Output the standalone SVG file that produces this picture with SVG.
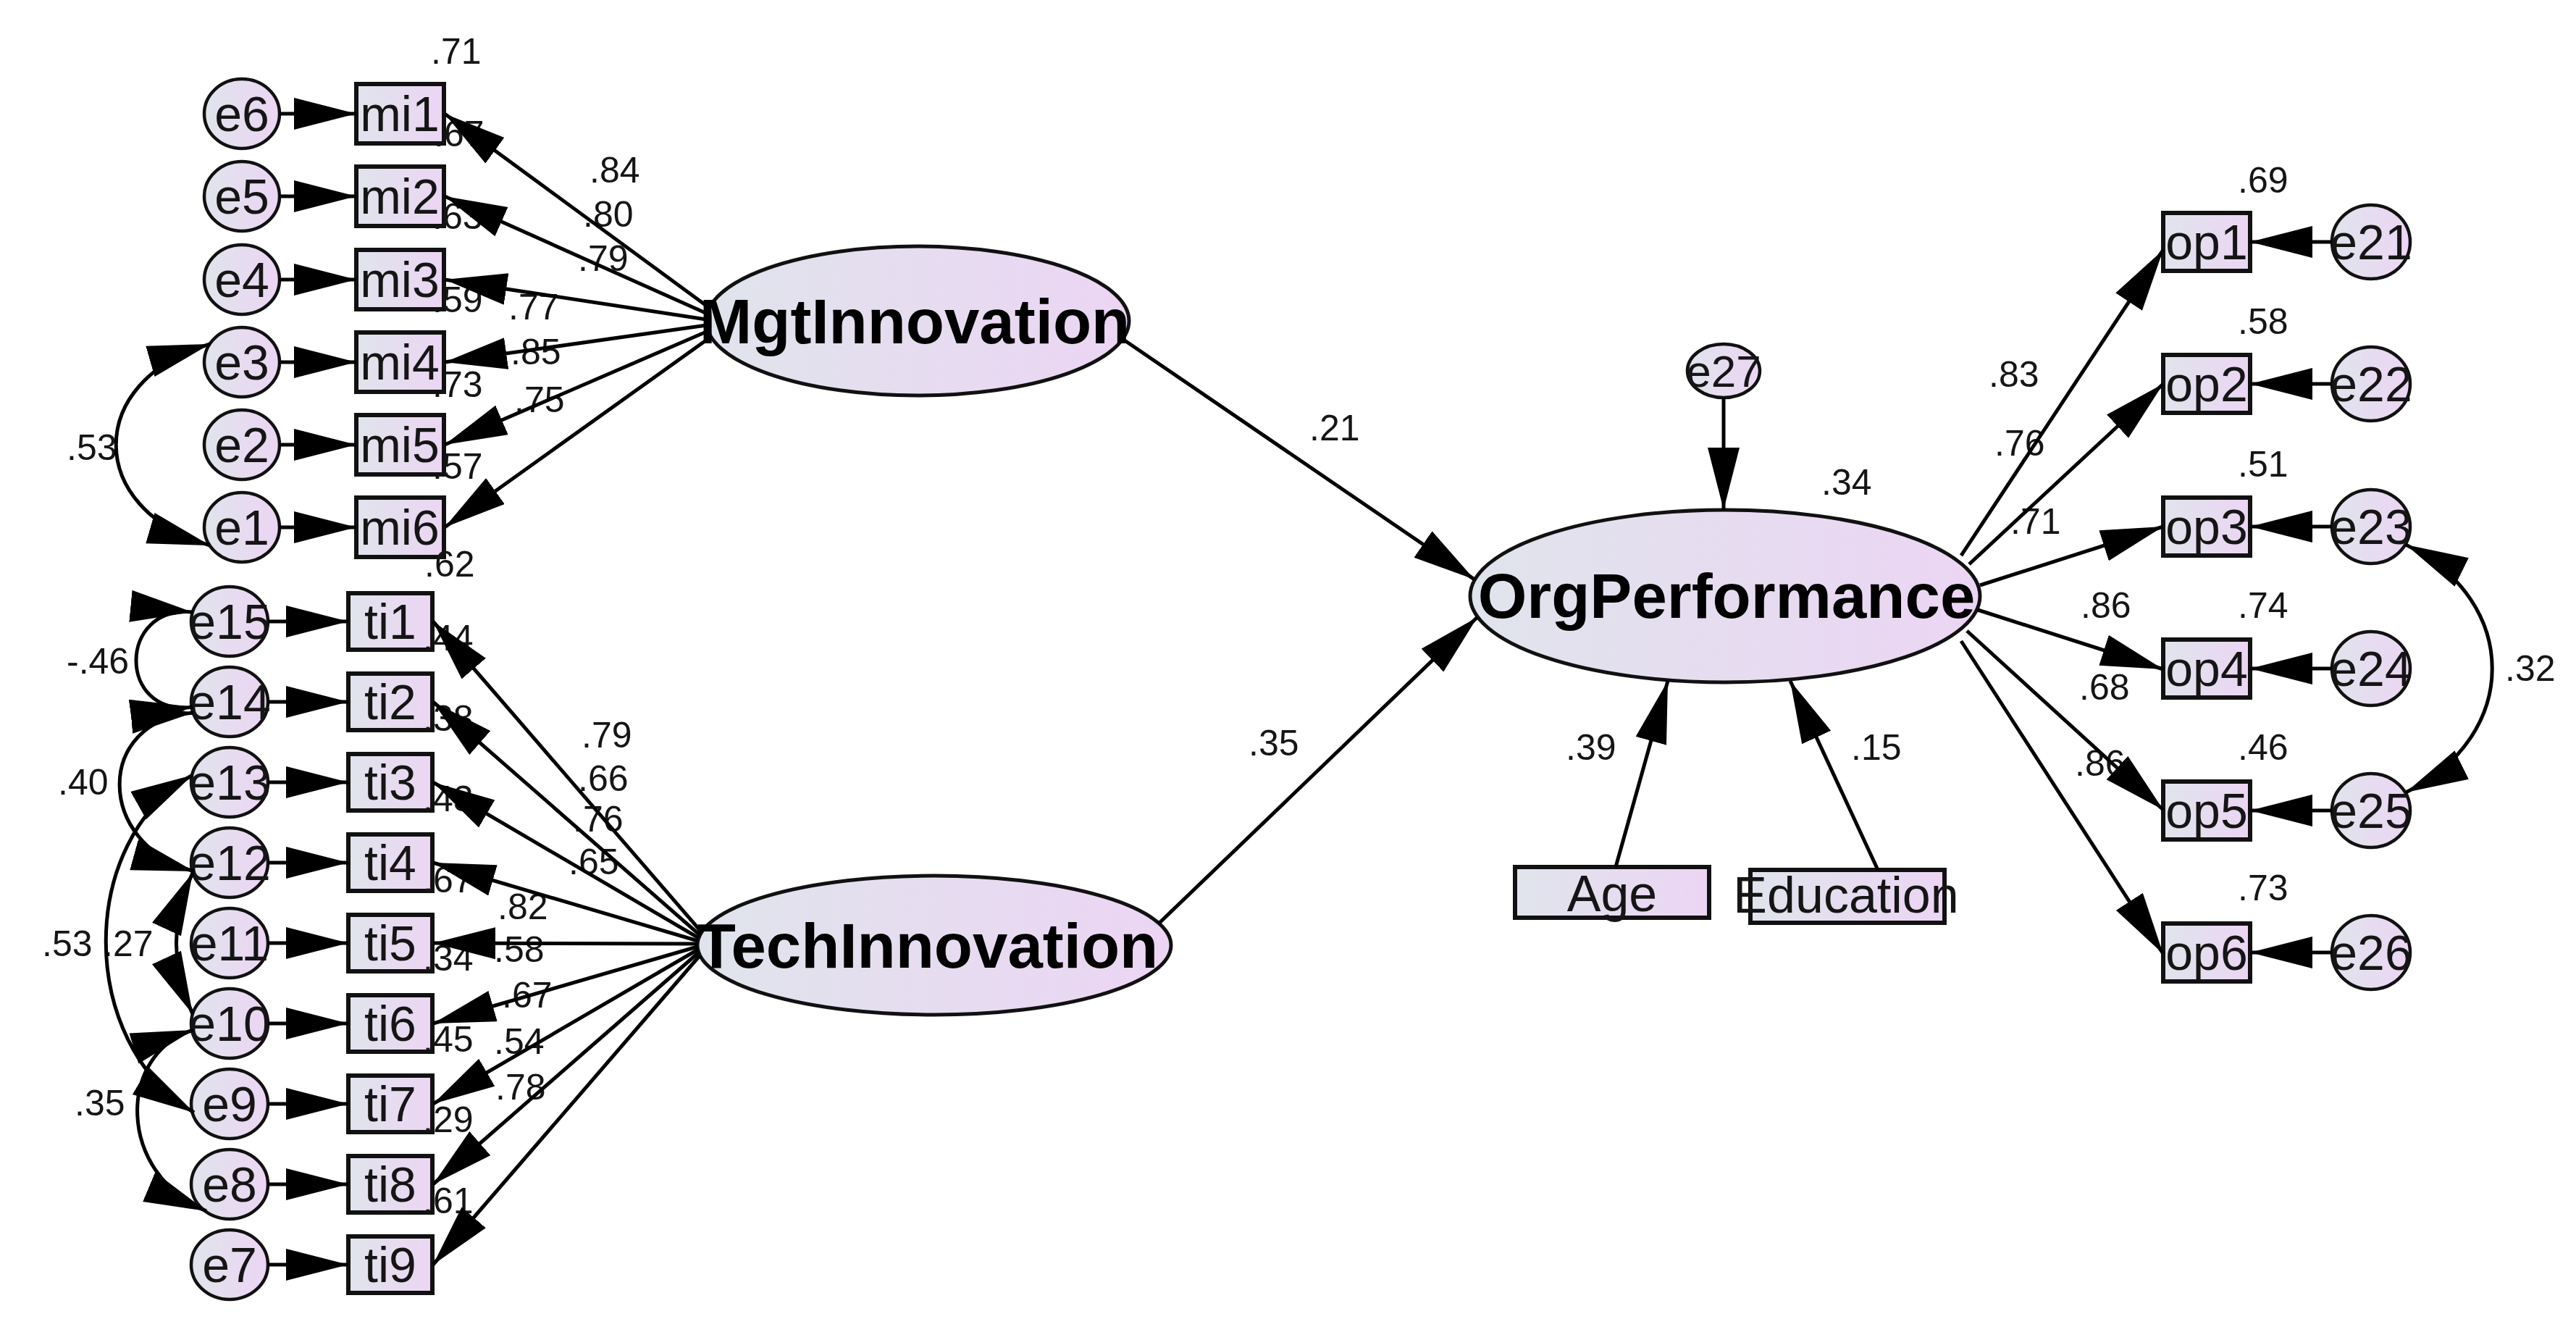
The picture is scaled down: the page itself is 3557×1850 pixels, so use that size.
<svg xmlns="http://www.w3.org/2000/svg" width="3557" height="1850" viewBox="0 0 3557 1850">
<style>
.box{fill:url(#g);stroke:#111;stroke-width:6}
.err{fill:url(#g);stroke:#111;stroke-width:4.5}
.lat{fill:url(#g);stroke:#111;stroke-width:5}
.t{font-family:"Liberation Sans",Arial,sans-serif;font-size:68px;text-anchor:middle;fill:#151515}
.b{font-family:"Liberation Sans",Arial,sans-serif;font-size:87px;font-weight:bold;text-anchor:middle;fill:#000}
.n{font-family:"Liberation Sans",Arial,sans-serif;font-size:50px;fill:#151515}
.c line,.c path{stroke:#000;stroke-width:5;fill:none}
.c line{marker-end:url(#a)}
.c path{marker-start:url(#a2);marker-end:url(#a2)}
</style>
<defs>
<linearGradient id="g" x1="0" y1="0" x2="1" y2="0">
<stop offset="0" stop-color="#e0e4ec"/>
<stop offset="1" stop-color="#ecd5f4"/>
</linearGradient>
<marker id="a" markerUnits="userSpaceOnUse" markerWidth="88" markerHeight="46" refX="86" refY="22" orient="auto"><path d="M0,0 L86,22 L0,44 Z" fill="#000"/></marker>
<marker id="a2" markerUnits="userSpaceOnUse" markerWidth="88" markerHeight="46" refX="86" refY="22" orient="auto-start-reverse"><path d="M0,0 L86,22 L0,44 Z" fill="#000"/></marker>
</defs>
<rect width="3557" height="1850" fill="#fff"/>

<g id="nodes">
<g id="MgtInnovation"><ellipse class="lat" cx="1267" cy="443" rx="292" ry="103"/><text class="b" x="1263" y="474">MgtInnovation</text></g>
<g id="TechInnovation"><ellipse class="lat" cx="1290" cy="1305" rx="327" ry="96"/><text class="b" x="1281" y="1336">TechInnovation</text></g>
<g id="OrgPerformance"><ellipse class="lat" cx="2382" cy="823" rx="352" ry="119"/><text class="b" x="2384" y="853">OrgPerformance</text></g>
<g id="e27"><ellipse class="err" cx="2380" cy="512" rx="50" ry="37"/><text class="t" x="2380" y="534" style="font-size:62px">e27</text></g>
<g id="Age"><rect class="box" x="2092" y="1197" width="268" height="70"/><text class="t" x="2226" y="1258" style="font-size:70px">Age</text></g>
<g id="Education"><rect class="box" x="2417" y="1201" width="268" height="73"/><text class="t" x="2549" y="1260" style="font-size:70px">Education</text></g>

<g id="e6"><ellipse class="err" cx="334" cy="157" rx="52" ry="48"/><text class="t" x="334" y="181">e6</text></g>
<g id="e5"><ellipse class="err" cx="334" cy="271" rx="52" ry="48"/><text class="t" x="334" y="295">e5</text></g>
<g id="e4"><ellipse class="err" cx="334" cy="386" rx="52" ry="48"/><text class="t" x="334" y="410">e4</text></g>
<g id="e3"><ellipse class="err" cx="334" cy="500" rx="52" ry="48"/><text class="t" x="334" y="524">e3</text></g>
<g id="e2"><ellipse class="err" cx="334" cy="614" rx="52" ry="48"/><text class="t" x="334" y="638">e2</text></g>
<g id="e1"><ellipse class="err" cx="334" cy="728" rx="52" ry="48"/><text class="t" x="334" y="752">e1</text></g>
<g id="mi1"><rect class="box" x="492" y="116" width="121" height="82"/><text class="t" x="552" y="181">mi1</text></g>
<g id="mi2"><rect class="box" x="492" y="230" width="121" height="82"/><text class="t" x="552" y="295">mi2</text></g>
<g id="mi3"><rect class="box" x="492" y="345" width="121" height="82"/><text class="t" x="552" y="410">mi3</text></g>
<g id="mi4"><rect class="box" x="492" y="459" width="121" height="82"/><text class="t" x="552" y="524">mi4</text></g>
<g id="mi5"><rect class="box" x="492" y="573" width="121" height="82"/><text class="t" x="552" y="638">mi5</text></g>
<g id="mi6"><rect class="box" x="492" y="687" width="121" height="82"/><text class="t" x="552" y="752">mi6</text></g>

<g id="e15"><ellipse class="err" cx="317" cy="858" rx="53" ry="48"/><text class="t" x="317" y="882">e15</text></g>
<g id="e14"><ellipse class="err" cx="317" cy="969" rx="53" ry="48"/><text class="t" x="317" y="993">e14</text></g>
<g id="e13"><ellipse class="err" cx="317" cy="1080" rx="53" ry="48"/><text class="t" x="317" y="1104">e13</text></g>
<g id="e12"><ellipse class="err" cx="317" cy="1191" rx="53" ry="48"/><text class="t" x="317" y="1215">e12</text></g>
<g id="e11"><ellipse class="err" cx="317" cy="1302" rx="53" ry="48"/><text class="t" x="317" y="1326">e11</text></g>
<g id="e10"><ellipse class="err" cx="317" cy="1413" rx="53" ry="48"/><text class="t" x="317" y="1437">e10</text></g>
<g id="e9"><ellipse class="err" cx="317" cy="1524" rx="53" ry="48"/><text class="t" x="317" y="1548">e9</text></g>
<g id="e8"><ellipse class="err" cx="317" cy="1635" rx="53" ry="48"/><text class="t" x="317" y="1659">e8</text></g>
<g id="e7"><ellipse class="err" cx="317" cy="1746" rx="53" ry="48"/><text class="t" x="317" y="1770">e7</text></g>
<g id="ti1"><rect class="box" x="481" y="819" width="116" height="78"/><text class="t" x="539" y="882">ti1</text></g>
<g id="ti2"><rect class="box" x="481" y="930" width="116" height="78"/><text class="t" x="539" y="993">ti2</text></g>
<g id="ti3"><rect class="box" x="481" y="1041" width="116" height="78"/><text class="t" x="539" y="1104">ti3</text></g>
<g id="ti4"><rect class="box" x="481" y="1152" width="116" height="78"/><text class="t" x="539" y="1215">ti4</text></g>
<g id="ti5"><rect class="box" x="481" y="1263" width="116" height="78"/><text class="t" x="539" y="1326">ti5</text></g>
<g id="ti6"><rect class="box" x="481" y="1374" width="116" height="78"/><text class="t" x="539" y="1437">ti6</text></g>
<g id="ti7"><rect class="box" x="481" y="1485" width="116" height="78"/><text class="t" x="539" y="1548">ti7</text></g>
<g id="ti8"><rect class="box" x="481" y="1596" width="116" height="78"/><text class="t" x="539" y="1659">ti8</text></g>
<g id="ti9"><rect class="box" x="481" y="1707" width="116" height="78"/><text class="t" x="539" y="1770">ti9</text></g>

<g id="op1"><rect class="box" x="2987" y="294" width="120" height="80"/><text class="t" x="3047" y="358">op1</text></g>
<g id="op2"><rect class="box" x="2987" y="490" width="120" height="80"/><text class="t" x="3047" y="554">op2</text></g>
<g id="op3"><rect class="box" x="2987" y="687" width="120" height="80"/><text class="t" x="3047" y="751">op3</text></g>
<g id="op4"><rect class="box" x="2987" y="883" width="120" height="80"/><text class="t" x="3047" y="947">op4</text></g>
<g id="op5"><rect class="box" x="2987" y="1079" width="120" height="80"/><text class="t" x="3047" y="1143">op5</text></g>
<g id="op6"><rect class="box" x="2987" y="1275" width="120" height="80"/><text class="t" x="3047" y="1339">op6</text></g>
<g id="e21"><ellipse class="err" cx="3274" cy="334" rx="54" ry="51"/><text class="t" x="3274" y="358">e21</text></g>
<g id="e22"><ellipse class="err" cx="3274" cy="530" rx="54" ry="51"/><text class="t" x="3274" y="554">e22</text></g>
<g id="e23"><ellipse class="err" cx="3274" cy="727" rx="54" ry="51"/><text class="t" x="3274" y="751">e23</text></g>
<g id="e24"><ellipse class="err" cx="3274" cy="923" rx="54" ry="51"/><text class="t" x="3274" y="947">e24</text></g>
<g id="e25"><ellipse class="err" cx="3274" cy="1119" rx="54" ry="51"/><text class="t" x="3274" y="1143">e25</text></g>
<g id="e26"><ellipse class="err" cx="3274" cy="1315" rx="54" ry="51"/><text class="t" x="3274" y="1339">e26</text></g>
</g>

<g id="labels" class="n">
<text x="595" y="88">.71</text><text x="599" y="202">.67</text><text x="597" y="316">.63</text><text x="597" y="431">.59</text><text x="597" y="548">.73</text><text x="597" y="661">.57</text><text x="586" y="796">.62</text>
<text x="814" y="252">.84</text><text x="805" y="313">.80</text><text x="798" y="374">.79</text><text x="702" y="441">.77</text><text x="705" y="503">.85</text><text x="710" y="569">.75</text>
<text x="92" y="635">.53</text>
<text x="584" y="898">.44</text><text x="584" y="1009">.38</text><text x="584" y="1120">.43</text><text x="584" y="1232">.67</text><text x="584" y="1340">.34</text><text x="584" y="1452">.45</text><text x="584" y="1563">.29</text><text x="584" y="1675">.61</text>
<text x="803" y="1032">.79</text><text x="798" y="1092">.66</text><text x="791" y="1148">.76</text><text x="785" y="1207">.65</text><text x="687" y="1269">.82</text><text x="682" y="1328">.58</text><text x="693" y="1391">.67</text><text x="682" y="1455">.54</text><text x="684" y="1518">.78</text>
<text x="92" y="930">-.46</text><text x="80" y="1097">.40</text><text x="58" y="1320">.53</text><text x="142" y="1320">.27</text><text x="103" y="1540">.35</text>
<text x="1808" y="608">.21</text><text x="1724" y="1043">.35</text><text x="2515" y="683">.34</text><text x="2162" y="1049">.39</text><text x="2556" y="1049">.15</text>
<text x="2746" y="534">.83</text><text x="2754" y="629">.76</text><text x="2776" y="737">.71</text><text x="2873" y="853">.86</text><text x="2871" y="966">.68</text><text x="2865" y="1071">.86</text>
<text x="3090" y="266">.69</text><text x="3090" y="461">.58</text><text x="3090" y="658">.51</text><text x="3090" y="853">.74</text><text x="3090" y="1049">.46</text><text x="3090" y="1243">.73</text>
<text x="3459" y="940">.32</text>
</g>

<g id="connectors" class="c">
<line x1="386" y1="157" x2="492" y2="157"/><line x1="386" y1="271" x2="492" y2="271"/><line x1="386" y1="386" x2="492" y2="386"/><line x1="386" y1="500" x2="492" y2="500"/><line x1="386" y1="614" x2="492" y2="614"/><line x1="386" y1="728" x2="492" y2="728"/>
<line x1="979.5" y1="425" x2="614" y2="157"/><line x1="976.4" y1="433" x2="614" y2="271"/><line x1="975" y1="441" x2="614" y2="386"/><line x1="975.5" y1="449" x2="614" y2="500"/><line x1="977.7" y1="457" x2="614" y2="614"/><line x1="981.7" y1="465" x2="614" y2="728"/>
<line x1="370" y1="858" x2="481" y2="858"/><line x1="370" y1="969" x2="481" y2="969"/><line x1="370" y1="1080" x2="481" y2="1080"/><line x1="370" y1="1191" x2="481" y2="1191"/><line x1="370" y1="1302" x2="481" y2="1302"/><line x1="370" y1="1413" x2="481" y2="1413"/><line x1="370" y1="1524" x2="481" y2="1524"/><line x1="370" y1="1635" x2="481" y2="1635"/><line x1="370" y1="1746" x2="481" y2="1746"/>
<line x1="968.8" y1="1287" x2="598" y2="858"/><line x1="966.5" y1="1291" x2="598" y2="969"/><line x1="964.8" y1="1295" x2="598" y2="1080"/><line x1="963.6" y1="1299" x2="598" y2="1191"/><line x1="963" y1="1303" x2="598" y2="1302"/><line x1="963" y1="1307" x2="598" y2="1413"/><line x1="963.6" y1="1311" x2="598" y2="1524"/><line x1="964.8" y1="1315" x2="598" y2="1635"/><line x1="966.5" y1="1319" x2="598" y2="1746"/>
<line x1="1550" y1="468" x2="2036" y2="800"/>
<line x1="1600" y1="1275" x2="2040" y2="852"/>
<line x1="2380" y1="549" x2="2380" y2="704"/>
<line x1="2231" y1="1197" x2="2303" y2="940"/>
<line x1="2593" y1="1201" x2="2472" y2="940"/>
<line x1="2708" y1="767" x2="2987" y2="345"/><line x1="2719" y1="779" x2="2987" y2="530"/><line x1="2734" y1="808" x2="2987" y2="727"/><line x1="2731" y1="842" x2="2987" y2="924"/><line x1="2716" y1="871" x2="2987" y2="1118"/><line x1="2708" y1="885" x2="2987" y2="1317"/>
<line x1="3220" y1="334" x2="3107" y2="334"/><line x1="3220" y1="530" x2="3107" y2="530"/><line x1="3220" y1="727" x2="3107" y2="727"/><line x1="3220" y1="923" x2="3107" y2="923"/><line x1="3220" y1="1119" x2="3107" y2="1119"/><line x1="3220" y1="1315" x2="3107" y2="1315"/>
<path d="M290,475 C117,525 117,703 290,753"/>
<path d="M266,845 C162,835 162,990 266,976"/>
<path d="M267,984 C131,995 131,1165 268,1203"/>
<path d="M266,1070 C106,1160 106,1440 268,1536"/>
<path d="M266,1205 C236,1270 236,1335 266,1400"/>
<path d="M267,1422 C161,1455 161,1620 285,1672"/>
<path d="M3322,752 C3481,830 3481,1016 3322,1094"/>
</g>
</svg>
